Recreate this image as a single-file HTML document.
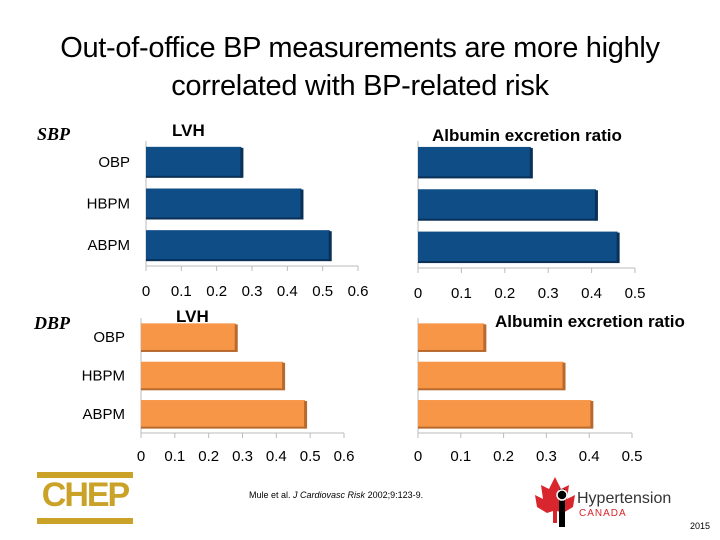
<!DOCTYPE html>
<html><head><meta charset="utf-8"><style>
body{margin:0;width:720px;height:540px;background:#fff;overflow:hidden;position:relative;font-family:"Liberation Sans",sans-serif}
.t{position:absolute;white-space:nowrap}
</style></head><body>
<div class="t" style="left:0;width:720px;top:29px;text-align:center;font-size:29px;line-height:38px;color:#000;font-family:'Liberation Sans',sans-serif;letter-spacing:-0.3px">Out-of-office BP measurements are more highly<br>correlated with BP-related risk</div>
<div class="t" style="left:37px;top:124px;font:italic bold 18px 'Liberation Serif',serif">SBP</div>
<div class="t" style="left:34px;top:313px;font:italic bold 18px 'Liberation Serif',serif">DBP</div>
<svg id="c" width="720" height="540" style="position:absolute;left:0;top:0"></svg>
<div style="position:absolute;left:37px;top:472px;width:96px;height:52px">
 <div style="position:absolute;left:0;top:0;width:96px;height:6px;background:#c9a227"></div>
 <div style="position:absolute;left:0;top:4px;width:96px;text-align:center;font:bold 34px 'Liberation Sans',sans-serif;color:#c9a227;letter-spacing:-2px">CHEP</div>
 <div style="position:absolute;left:0;top:46px;width:96px;height:6px;background:#c9a227"></div>
</div>
<div class="t" style="left:249px;top:490px;font-size:9px;color:#000">Mule et al. <i>J Cardiovasc Risk</i> 2002;9:123-9.</div>
<svg style="position:absolute;left:535px;top:475px" width="170" height="60">
 <path d="M20 2 L26 14 L34 10 L32 24 L40 20 L38 32 L28 38 L22 36 L22 48 L18 48 L18 36 L12 38 L2 32 L0 20 L8 24 L6 10 L14 14 Z" fill="#d9262e"/>
 <rect x="24" y="14" width="6" height="38" fill="#000"/><circle cx="27" cy="20" r="5" fill="#000" stroke="#fff" stroke-width="1.5"/>
 <text x="42" y="28" font-size="16" font-family="Liberation Sans" fill="#333">Hypertension</text>
 <text x="44" y="41" font-size="10" font-family="Liberation Sans" fill="#d9262e" letter-spacing="1">CANADA</text>
</svg>
<div class="t" style="left:690px;top:521px;font-size:9px">2015</div>
<script>
const categories=["OBP","HBPM","ABPM"];
const sbpLvh=[0.27,0.44,0.52];
const sbpAlb=[0.26,0.41,0.46];
const dbpLvh=[0.28,0.42,0.485];
const dbpAlb=[0.155,0.34,0.405];
const ticksLvh=["0","0.1","0.2","0.3","0.4","0.5","0.6"];
const ticksAlb=["0","0.1","0.2","0.3","0.4","0.5"];
const svg=document.getElementById('c');
const NS='http://www.w3.org/2000/svg';
function el(tag,a,p){const e=document.createElementNS(NS,tag);for(const k in a)e.setAttribute(k,a[k]);(p||svg).appendChild(e);return e;}
function chart(name,vals,ticks,cfg){
 const g=el('g',{});
 
 
 const max=ticks.length-1;
 const sx=v=>cfg.x0+(v*10)/max*(cfg.x1-cfg.x0);
 el('line',{x1:cfg.x0,y1:cfg.top,x2:cfg.x0,y2:cfg.axisY,stroke:'#bbb'},g);
 el('line',{x1:cfg.x0,y1:cfg.axisY,x2:cfg.x1,y2:cfg.axisY,stroke:'#bbb'},g);
 ticks.forEach((t,i)=>{const x=cfg.x0+i/max*(cfg.x1-cfg.x0);
  el('line',{x1:x,y1:cfg.axisY,x2:x,y2:cfg.axisY+5,stroke:'#bbb'},g);
  const tx=el('text',{x:x,y:cfg.labY,'font-size':15,'text-anchor':'middle','font-family':'Liberation Sans',fill:'#000'},g);tx.textContent=t;
  
  });
 const step=(cfg.axisY-cfg.top)/3;
 vals.forEach((v,i)=>{const y=cfg.top+i*step+step*0.14,h=step*0.72,w=sx(v)-cfg.x0;
  const r=el('rect',{x:cfg.x0,y:y,width:w,height:h,fill:cfg.col},g);
  
  
  el('rect',{x:cfg.x0+w-1,y:y+1,width:3,height:h,fill:cfg.dark},g);
  el('rect',{x:cfg.x0,y:y+h-1,width:w,height:2,fill:cfg.dark},g);
  if(cfg.cats){const tl=el('text',{x:cfg.x0-16,y:y+h/2+5,'font-size':15,'text-anchor':'end','font-family':'Liberation Sans',fill:'#000'},g);tl.textContent=categories[i];
   
   }
 });
 const tt=el('text',{x:cfg.tx,y:cfg.ty,'font-size':cfg.tsize,'font-weight':'bold','font-family':'Liberation Sans',fill:'#000'},g);tt.textContent=cfg.title;
 
 
}
chart('sbp-lvh-chart',sbpLvh,ticksLvh,{x0:146,x1:358,top:141,axisY:266,labY:296,col:'#0e4d86',dark:'#0a3058',cats:true,title:'LVH',tx:172,ty:136,tsize:17});
chart('sbp-albumin-chart',sbpAlb,ticksAlb,{x0:418,x1:635,top:141,axisY:268,labY:298,col:'#0e4d86',dark:'#0a3058',cats:false,title:'Albumin excretion ratio',tx:432,ty:141,tsize:17});
chart('dbp-lvh-chart',dbpLvh,ticksLvh,{x0:141,x1:344,top:318,axisY:433,labY:461,col:'#f79646',dark:'#b8692d',cats:true,title:'LVH',tx:176,ty:322,tsize:17});
chart('dbp-albumin-chart',dbpAlb,ticksAlb,{x0:418,x1:632,top:318,axisY:433,labY:461,col:'#f79646',dark:'#b8692d',cats:false,title:'Albumin excretion ratio',tx:495,ty:327,tsize:17});
</script>
</body></html>
